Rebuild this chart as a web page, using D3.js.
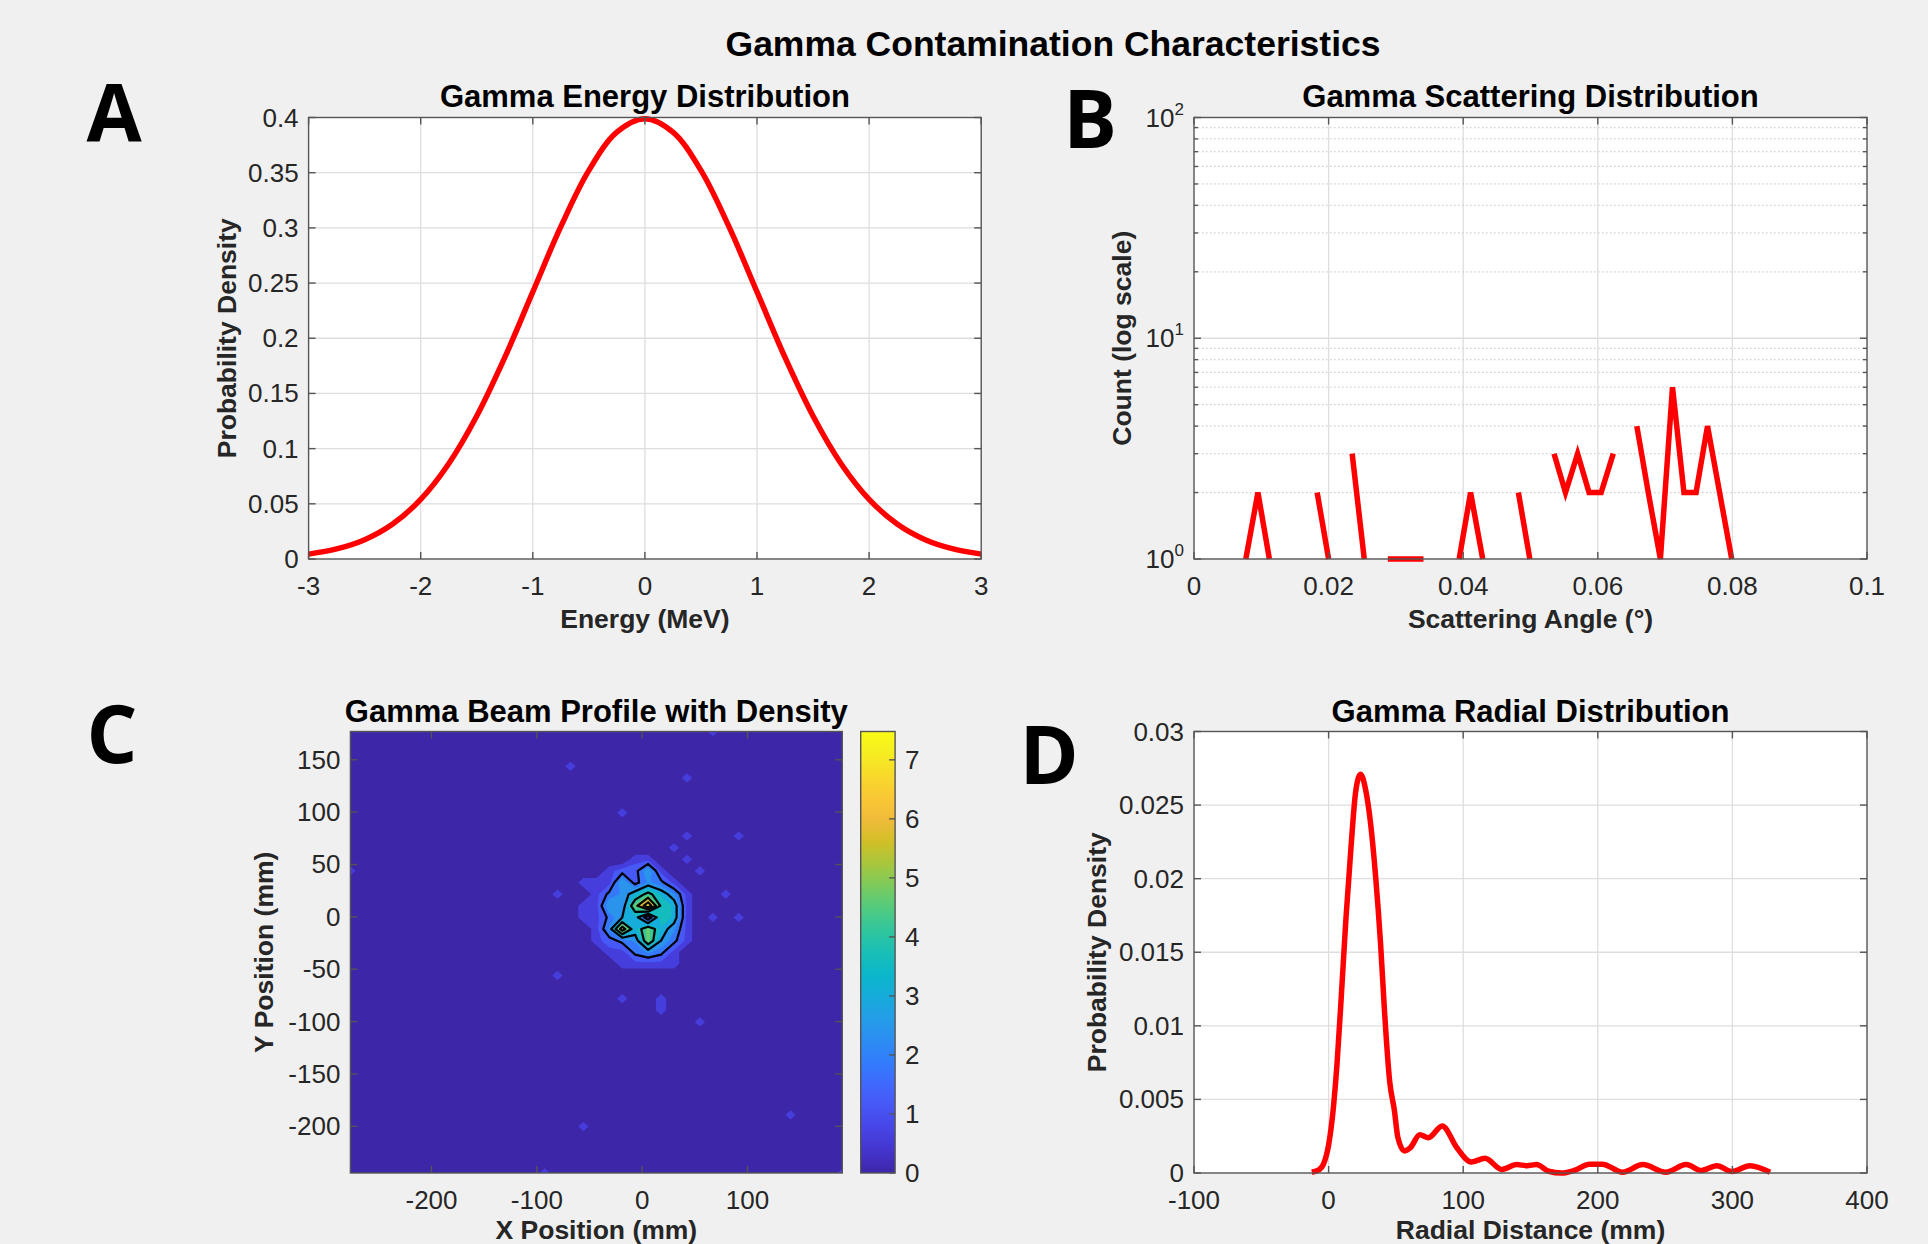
<!DOCTYPE html>
<html><head><meta charset="utf-8">
<script src="https://cdn.jsdelivr.net/npm/d3@7"></script>
<style>
body{margin:0;background:#f0f0f0}
svg{display:block}
</style>
</head><body>
<svg id="c" width="1928" height="1244"></svg>
<script>
// ---------------- DATA ----------------
// A: Gamma energy distribution
const energyX   = [-3,-2.75,-2.5,-2.25,-2,-1.75,-1.5,-1.25,-1,-0.75,-0.5,-0.25,0,0.25,0.5,0.75,1,1.25,1.5,1.75,2,2.25,2.5,2.75,3];
const energyPdf = [0.0044,0.0091,0.0175,0.0317,0.054,0.0863,0.1295,0.1826,0.242,0.3011,0.3521,0.3867,0.3989,0.3867,0.3521,0.3011,0.242,0.1826,0.1295,0.0863,0.054,0.0317,0.0175,0.0091,0.0044];
const energyXTicks = [-3,-2,-1,0,1,2,3];
const energyYTicks = [0,0.05,0.1,0.15,0.2,0.25,0.3,0.35,0.4];

// B: Gamma scattering distribution (histogram bin centres and counts; 0 = gap)
const scatterAngle = [0.0077,0.0095,0.0112,0.0130,0.0147,0.0165,0.0183,0.0200,0.0218,0.0235,0.0253,0.0271,0.0288,0.0306,0.0323,0.0341,0.0359,0.0376,0.0394,0.0411,0.0429,0.0447,0.0464,0.0482,0.0499,0.0517,0.0535,0.0552,0.0570,0.0587,0.0605,0.0623,0.0640,0.0658,0.0675,0.0693,0.0711,0.0728,0.0746,0.0763,0.0781,0.0799];
const scatterCount = [1,2,1,0,0,0,2,1,0,3,1,0,1,1,1,1,0,0,1,2,1,0,0,2,1,0,3,2,3,2,2,3,0,4,2,1,6,2,2,4,2,1];
const scatterXTicks = [0,0.02,0.04,0.06,0.08,0.1];
const scatterYTicks = [1,10,100];

// C: Gamma beam profile (2D histogram on a 39 x 39 grid; [xBin, yBin, count])
const beamXRange = [-277, 190];
const beamYRange = [-244.6, 177];
const beamBins = 39;
const beamCells = [
  [17,35,1],[26,34,1],[28,38,1],[21,31,1],[30,29,1],
  [26,29,1],[25,28,1],[26,27,1],[27,26,1],
  [18,25,1],[16,24,1],[29,24,1],[28,22,1],[30,22,1],[0,26,1],
  [16,17,1],[21,15,1],[24,15,1],[24,14,1],[27,13,1],[34,5,1],[18,4,1],[15,0,1],[38,0,1],
  [22,27,1],[23,27,1],
  [20,26,1],[21,26,1.5],[22,26,1.5],[23,26,3],[24,26,1],
  [19,25,1],[20,25,1],[21,25,3],[22,25,1.5],[23,25,2.5],[24,25,2],[25,25,1],
  [19,24,1],[20,24,2],[21,24,2.5],[22,24,3.5],[23,24,4.5],[24,24,3.5],[25,24,2.5],[26,24,1],
  [18,23,1],[19,23,1],[20,23,3],[21,23,2.5],[22,23,5],[23,23,7.48],[24,23,4],[25,23,3.5],[26,23,1],
  [18,22,1],[19,22,1],[20,22,2],[21,22,3],[22,22,3.5],[23,22,1],[24,22,4],[25,22,3.5],[26,22,1],
  [19,21,1],[20,21,2.5],[21,21,6],[22,21,3.5],[23,21,5],[24,21,3.5],[25,21,2.5],[26,21,1],
  [19,20,1],[20,20,1.5],[21,20,2],[22,20,2.5],[23,20,5],[24,20,3],[25,20,2],[26,20,1],
  [20,19,1],[21,19,1],[22,19,2],[23,19,2.5],[24,19,2],[25,19,1],
  [21,18,1],[22,18,1],[23,18,1],[24,18,1],[25,18,1]
];
const beamFillLevels  = [0.6,1.2,1.8,2.4,3.0,3.6,4.2,4.8,5.4,6.0,6.6,7.2];
const beamLineLevels  = [1.8,3.0,4.2,5.4,6.6];
const beamXTicks = [-200,-100,0,100];
const beamYTicks = [-200,-150,-100,-50,0,50,100,150];
const beamCMax = 7.48;
const colorbarTicks = [0,1,2,3,4,5,6,7];

// D: Gamma radial distribution (KDE curve)
const radialX   = [-12.5,-6.8,-3.8,0,3.4,6.4,9.5,12.9,16.7,20.1,23.8,27.6,31.0,34.8,38.6,41.6,45.4,48.8,51.5,56.4,60.6,67.8,74.2,84.4,95.4,106,116.2,128.7,139.7,147.2,154.4,163.5,173,182.4,193.8,203.3,218.4,233.5,250.6,265.7,277,288.4,299.8,313,328];
const radialPdf = [0.00005,0.00024,0.0006,0.0019,0.0043,0.0076,0.0121,0.0173,0.0222,0.0259,0.0271,0.0260,0.0239,0.0203,0.0156,0.0109,0.0062,0.0043,0.0024,0.0015,0.0017,0.0026,0.0024,0.0032,0.0017,0.00075,0.001,0.00024,0.00057,0.0005,0.00057,0.00012,0,0.00017,0.0006,0.0006,0.00005,0.00057,0.00005,0.00057,0.00017,0.0005,0.0001,0.0005,0.00005];
const radialXTicks = [-100,0,100,200,300,400];
const radialYTicks = [0,0.005,0.01,0.015,0.02,0.025,0.03];

// parula colormap stops (MATLAB)
const parulaStops = [
 [0.2422,0.1504,0.6603],[0.2706,0.2147,0.8364],[0.2813,0.3006,0.9414],[0.2699,0.3892,0.9906],
 [0.1963,0.4847,0.9892],[0.1687,0.5703,0.9359],[0.1248,0.6459,0.8883],[0.0297,0.7082,0.8163],
 [0.0964,0.7500,0.7120],[0.2161,0.7843,0.5923],[0.3909,0.8029,0.4354],[0.6174,0.7876,0.2612],
 [0.8203,0.7498,0.1535],[0.9728,0.7298,0.2394],[0.9892,0.8136,0.1885],[0.9597,0.9135,0.1423],[0.9769,0.9839,0.0805]
];

// ---------------- DRAWING ----------------
const FONT = '"Liberation Sans", Arial, Helvetica, sans-serif';
const TXT = '#262626';
const AX = '#555555';
const GRID = '#dedede';
const svg = d3.select('#c');
svg.append('rect').attr('width',1928).attr('height',1244).attr('fill','#f0f0f0');

const parula = d3.scaleLinear()
  .domain(parulaStops.map((d,i)=>i/(parulaStops.length-1)))
  .range(parulaStops.map(c=>d3.rgb(c[0]*255,c[1]*255,c[2]*255).toString()))
  .interpolate(d3.interpolateRgb).clamp(true);

function txt(g, x, y, s, o={}) {
  const t = g.append('text').attr('x',x).attr('y',y).text(s)
    .attr('font-family', o.family || FONT)
    .attr('font-size', o.size || 26)
    .attr('font-weight', o.weight || 'normal')
    .attr('fill', o.fill || TXT)
    .attr('text-anchor', o.anchor || 'middle');
  if (o.baseline) t.attr('dominant-baseline', o.baseline);
  if (o.rotate) t.attr('transform', `rotate(${o.rotate},${x},${y})`);
  return t;
}

function panelFrame(box, xs, ys, xTicks, yTicks, opts={}) {
  const g = svg.append('g');
  const {l,r,t,b} = box;
  g.append('rect').attr('x',l).attr('y',t).attr('width',r-l).attr('height',b-t).attr('fill','#fff');
  if (opts.grid) {
    xTicks.forEach(v=>{ const x=xs(v); if (x>l+0.5 && x<r-0.5) g.append('line').attr('x1',x).attr('x2',x).attr('y1',t).attr('y2',b).attr('stroke',GRID).attr('stroke-width',1.3); });
    yTicks.forEach(v=>{ const y=ys(v); if (y>t+0.5 && y<b-0.5) g.append('line').attr('x1',l).attr('x2',r).attr('y1',y).attr('y2',y).attr('stroke',GRID).attr('stroke-width',1.3); });
  }
  return g;
}

function panelAxes(box, xs, ys, xTicks, yTicks, xFmt, yFmt, opts={}) {
  const g = svg.append('g');
  const {l,r,t,b} = box;
  const tl = 7;
  g.append('rect').attr('x',l).attr('y',t).attr('width',r-l).attr('height',b-t)
    .attr('fill','none').attr('stroke',AX).attr('stroke-width',1.4);
  xTicks.forEach(v=>{
    const x = xs(v);
    g.append('line').attr('x1',x).attr('x2',x).attr('y1',b).attr('y2',b-tl).attr('stroke',AX).attr('stroke-width',1.4);
    g.append('line').attr('x1',x).attr('x2',x).attr('y1',t).attr('y2',t+tl).attr('stroke',AX).attr('stroke-width',1.4);
    txt(g, x, b+36, xFmt(v));
  });
  yTicks.forEach(v=>{
    const y = ys(v);
    g.append('line').attr('x1',l).attr('x2',l+tl).attr('y1',y).attr('y2',y).attr('stroke',AX).attr('stroke-width',1.4);
    g.append('line').attr('x1',r).attr('x2',r-tl).attr('y1',y).attr('y2',y).attr('stroke',AX).attr('stroke-width',1.4);
    if (!opts.customY) txt(g, l-10, y, yFmt(v), {anchor:'end', baseline:'central'});
  });
  return g;
}

const fmt = v => String(+v.toFixed(4));
const TITLE = {size:31, weight:'bold', fill:'#000'};
const LABEL = {size:26.5, weight:'bold'};

// ---- Main title
txt(svg, 1053, 56, 'Gamma Contamination Characteristics', {size:35.5, weight:'bold', fill:'#000'});

// ---- Panel letters
const LET = {family:'"Open Sans", "Liberation Sans", sans-serif', size:80, weight:'bold', fill:'#000'};
txt(svg, 114, 142, 'A', LET);
txt(svg, 1090, 148, 'B', LET);
txt(svg, 112, 763, 'C', LET);
txt(svg, 1049, 784, 'D', LET);

// ---------- Panel A ----------
{
  const box = {l:308.6, r:981.2, t:117.5, b:559};
  const xs = d3.scaleLinear().domain([-3,3]).range([box.l, box.r]);
  const ys = d3.scaleLinear().domain([0,0.4]).range([box.b, box.t]);
  panelFrame(box, xs, ys, energyXTicks, energyYTicks, {grid:true});
  const pts = energyX.map((x,i)=>[x, energyPdf[i]]);
  svg.append('path').datum(pts)
    .attr('d', d3.line().x(d=>xs(d[0])).y(d=>ys(d[1])).curve(d3.curveCatmullRom))
    .attr('fill','none').attr('stroke','#ff0000').attr('stroke-width',5.5).attr('stroke-linejoin','round');
  panelAxes(box, xs, ys, energyXTicks, energyYTicks, fmt, fmt);
  txt(svg, (box.l+box.r)/2, 107, 'Gamma Energy Distribution', TITLE);
  txt(svg, (box.l+box.r)/2, 628, 'Energy (MeV)', LABEL);
  txt(svg, 227, (box.t+box.b)/2, 'Probability Density', {...LABEL, rotate:-90, baseline:'central'});
}

// ---------- Panel B ----------
{
  const box = {l:1194, r:1867, t:117.5, b:559};
  const xs = d3.scaleLinear().domain([0,0.1]).range([box.l, box.r]);
  const ys = d3.scaleLog().domain([1,100]).range([box.b, box.t]);
  const g = panelFrame(box, xs, ys, scatterXTicks, scatterYTicks, {grid:true});
  const minor = [];
  [1,10].forEach(dec=>{ for (let k=2;k<=9;k++) minor.push(dec*k); });
  minor.forEach(v=>{
    const y = ys(v);
    g.append('line').attr('x1',box.l).attr('x2',box.r).attr('y1',y).attr('y2',y)
      .attr('stroke','#cfcfcf').attr('stroke-width',1.2).attr('stroke-dasharray','1.5,2.5');
  });
  const pts = scatterAngle.map((x,i)=>({x, c:scatterCount[i]}));
  svg.append('path').datum(pts)
    .attr('d', d3.line().defined(d=>d.c>0).x(d=>xs(d.x)).y(d=>ys(d.c)))
    .attr('fill','none').attr('stroke','#ff0000').attr('stroke-width',5.5).attr('stroke-linejoin','miter');
  const a = panelAxes(box, xs, ys, scatterXTicks, scatterYTicks, fmt, fmt, {customY:true});
  minor.forEach(v=>{
    const y = ys(v);
    a.append('line').attr('x1',box.l).attr('x2',box.l+4).attr('y1',y).attr('y2',y).attr('stroke',AX).attr('stroke-width',1.4);
    a.append('line').attr('x1',box.r).attr('x2',box.r-4).attr('y1',y).attr('y2',y).attr('stroke',AX).attr('stroke-width',1.4);
  });
  scatterYTicks.forEach(v=>{
    const t = a.append('text').attr('x', box.l-10).attr('y', ys(v)+9)
      .attr('font-family',FONT).attr('font-size',26).attr('fill',TXT).attr('text-anchor','end');
    t.append('tspan').text('10');
    t.append('tspan').attr('font-size',17).attr('dy',-12).text(String(Math.round(Math.log10(v))));
  });
  txt(svg, (box.l+box.r)/2, 107, 'Gamma Scattering Distribution', TITLE);
  txt(svg, (box.l+box.r)/2, 628, 'Scattering Angle (°)', LABEL);
  txt(svg, 1122, (box.t+box.b)/2, 'Count (log scale)', {...LABEL, rotate:-90, baseline:'central'});
}

// ---------- Panel C ----------
{
  const box = {l:350.4, r:842.3, t:731.5, b:1173};
  const xs = d3.scaleLinear().domain(beamXRange).range([box.l, box.r]);
  const ys = d3.scaleLinear().domain(beamYRange).range([box.b, box.t]);
  const n = beamBins;
  const dx = (beamXRange[1]-beamXRange[0])/(n-1);
  const dy = (beamYRange[1]-beamYRange[0])/(n-1);
  const values = new Array(n*n).fill(0);
  beamCells.forEach(([ix,iy,v])=>{ values[iy*n+ix] = v; });
  const proj = d3.geoTransform({point: function(gx, gy){
    this.stream.point(xs(beamXRange[0] + (gx-0.5)*dx), ys(beamYRange[0] + (gy-0.5)*dy));
  }});
  const path = d3.geoPath(proj);
  svg.append('clipPath').attr('id','clipC').append('rect')
    .attr('x',box.l).attr('y',box.t).attr('width',box.r-box.l).attr('height',box.b-box.t);
  const g = svg.append('g').attr('clip-path','url(#clipC)');
  g.append('rect').attr('x',box.l).attr('y',box.t).attr('width',box.r-box.l).attr('height',box.b-box.t)
    .attr('fill', parula(0));
  const cont = d3.contours().size([n,n]).thresholds(beamFillLevels)(values);
  g.selectAll('path.fill').data(cont).join('path')
    .attr('d', path).attr('fill', d=>parula(d.value/beamCMax)).attr('stroke','none');
  const lines = d3.contours().size([n,n]).thresholds(beamLineLevels)(values);
  g.selectAll('path.line').data(lines).join('path')
    .attr('d', path).attr('fill','none').attr('stroke','#000').attr('stroke-width',2.2).attr('stroke-linejoin','round');
  panelAxes(box, xs, ys, beamXTicks, beamYTicks, fmt, fmt);
  txt(svg, (box.l+box.r)/2, 722, 'Gamma Beam Profile with Density', TITLE);
  txt(svg, (box.l+box.r)/2, 1239, 'X Position (mm)', LABEL);
  txt(svg, 264, (box.t+box.b)/2, 'Y Position (mm)', {...LABEL, rotate:-90, baseline:'central'});

  // colorbar
  const cb = {l:860.7, r:895.1, t:box.t, b:box.b};
  const cs = d3.scaleLinear().domain([0, beamCMax]).range([cb.b, cb.t]);
  const defs = svg.append('defs');
  const grad = defs.append('linearGradient').attr('id','parulaGrad').attr('x1',0).attr('x2',0).attr('y1',1).attr('y2',0);
  d3.range(0,1.0001,0.05).forEach(s=>grad.append('stop').attr('offset',s).attr('stop-color',parula(s)));
  svg.append('rect').attr('x',cb.l).attr('y',cb.t).attr('width',cb.r-cb.l).attr('height',cb.b-cb.t)
    .attr('fill','url(#parulaGrad)').attr('stroke',AX).attr('stroke-width',1.4);
  colorbarTicks.forEach(v=>{
    const y = cs(v);
    svg.append('line').attr('x1',cb.r).attr('x2',cb.r-6).attr('y1',y).attr('y2',y).attr('stroke',AX).attr('stroke-width',1.4);
    txt(svg, cb.r+10, y, String(v), {anchor:'start', baseline:'central'});
  });
}

// ---------- Panel D ----------
{
  const box = {l:1194, r:1867, t:731.5, b:1173};
  const xs = d3.scaleLinear().domain([-100,400]).range([box.l, box.r]);
  const ys = d3.scaleLinear().domain([0,0.03]).range([box.b, box.t]);
  panelFrame(box, xs, ys, radialXTicks, radialYTicks, {grid:true});
  const pts = radialX.map((x,i)=>[x, radialPdf[i]]);
  svg.append('path').datum(pts)
    .attr('d', d3.line().x(d=>xs(d[0])).y(d=>ys(d[1])).curve(d3.curveMonotoneX))
    .attr('fill','none').attr('stroke','#ff0000').attr('stroke-width',5.5).attr('stroke-linejoin','round');
  panelAxes(box, xs, ys, radialXTicks, radialYTicks, fmt, fmt);
  txt(svg, (box.l+box.r)/2, 722, 'Gamma Radial Distribution', TITLE);
  txt(svg, (box.l+box.r)/2, 1239, 'Radial Distance (mm)', LABEL);
  txt(svg, 1097, (box.t+box.b)/2, 'Probability Density', {...LABEL, rotate:-90, baseline:'central'});
}
</script>
</body></html>
